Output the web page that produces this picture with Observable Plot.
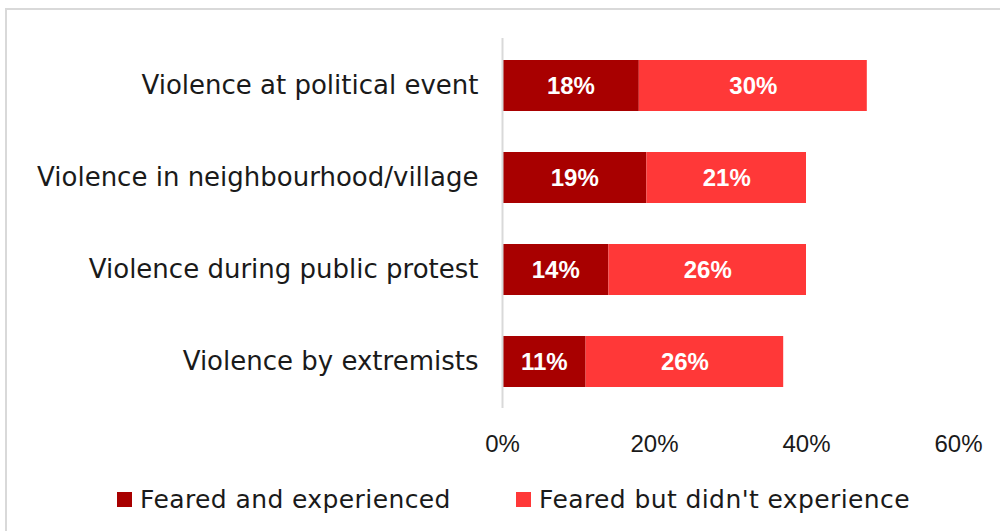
<!DOCTYPE html>
<html>
<head>
<meta charset="utf-8">
<script src="https://cdn.jsdelivr.net/npm/d3@7"></script>
<script src="https://cdn.jsdelivr.net/npm/@observablehq/plot@0.6"></script>
<style>
  html, body { margin: 0; padding: 0; background: #fff; }
  #wrap { position: relative; width: 1000px; height: 531px; overflow: hidden; font-family: "DejaVu Sans", sans-serif; }
  #frame { position: absolute; left: 5px; top: 8px; width: 1010px; height: 540px; border: 2px solid #d9d9d9; box-sizing: border-box; }
  #chart { position: absolute; left: 0; top: 0; }
  #legend { position: absolute; top: 484px; left: 0; width: 1000px; height: 30px; font-size: 25px; letter-spacing: 0.4px; color: #1a1a1a; }
  .item { position: absolute; top: 0; display: flex; align-items: center; height: 30px; white-space: nowrap; }
  .sw { width: 15px; height: 15px; margin-right: 8px; }
</style>
</head>
<body>
<div id="wrap">
  <div id="frame"></div>
  <div id="chart"></div>
  <div id="legend"></div>
</div>
<script>
const categories = ["Violence at political event", "Violence in neighbourhood/village", "Violence during public protest", "Violence by extremists"];
const fearedExperienced = [18, 19, 14, 11];
const fearedNotExperienced = [30, 21, 26, 26];
const seriesNames = ["Feared and experienced", "Feared but didn't experience"];
const seriesColors = ["#a80000", "#ff3838"];
const xTicks = [0, 20, 40, 60];

const data = [];
categories.forEach((c, i) => {
  data.push({category: c, series: seriesNames[0], value: fearedExperienced[i]});
  data.push({category: c, series: seriesNames[1], value: fearedNotExperienced[i]});
});

const chart = Plot.plot({
  width: 1000,
  height: 470,
  marginLeft: 502,
  marginRight: 42,
  marginTop: 38,
  marginBottom: 62,
  style: {fontFamily: "'Liberation Sans', Arial, sans-serif", fontSize: "24px", color: "#1a1a1a", background: "transparent"},
  x: {domain: [0, 60], label: null},
  y: {domain: categories, paddingInner: 0.449, paddingOuter: 0.2245, label: null},
  color: {domain: seriesNames, range: seriesColors},
  marks: [
    Plot.barX(data, Plot.stackX({x: "value", y: "category", fill: "series", order: seriesNames})),
    Plot.text(data, Plot.stackX({x: "value", y: "category", z: "series", order: seriesNames, text: d => d.value + "%", fill: "white", fontWeight: "bold", fontSize: 24})),
    Plot.ruleX([0], {stroke: "#d9d9d9", strokeWidth: 2}),
    Plot.axisX({ticks: xTicks, tickFormat: d => d + "%", tickSize: 0, tickPadding: 26, label: null, fontSize: 24}),
    Plot.axisY({tickSize: 0, tickPadding: 24, label: null, fontFamily: "DejaVu Sans", fontSize: 26, style: "letter-spacing: 0.4px"})
  ]
});
document.getElementById("chart").appendChild(chart);

const legend = document.getElementById("legend");
const lefts = [117, 516];
seriesNames.forEach((name, i) => {
  const item = document.createElement("div");
  item.className = "item";
  item.style.left = lefts[i] + "px";
  const sw = document.createElement("div");
  sw.className = "sw";
  sw.style.background = seriesColors[i];
  const t = document.createElement("span");
  t.textContent = name;
  item.appendChild(sw);
  item.appendChild(t);
  legend.appendChild(item);
});
</script>
</body>
</html>
